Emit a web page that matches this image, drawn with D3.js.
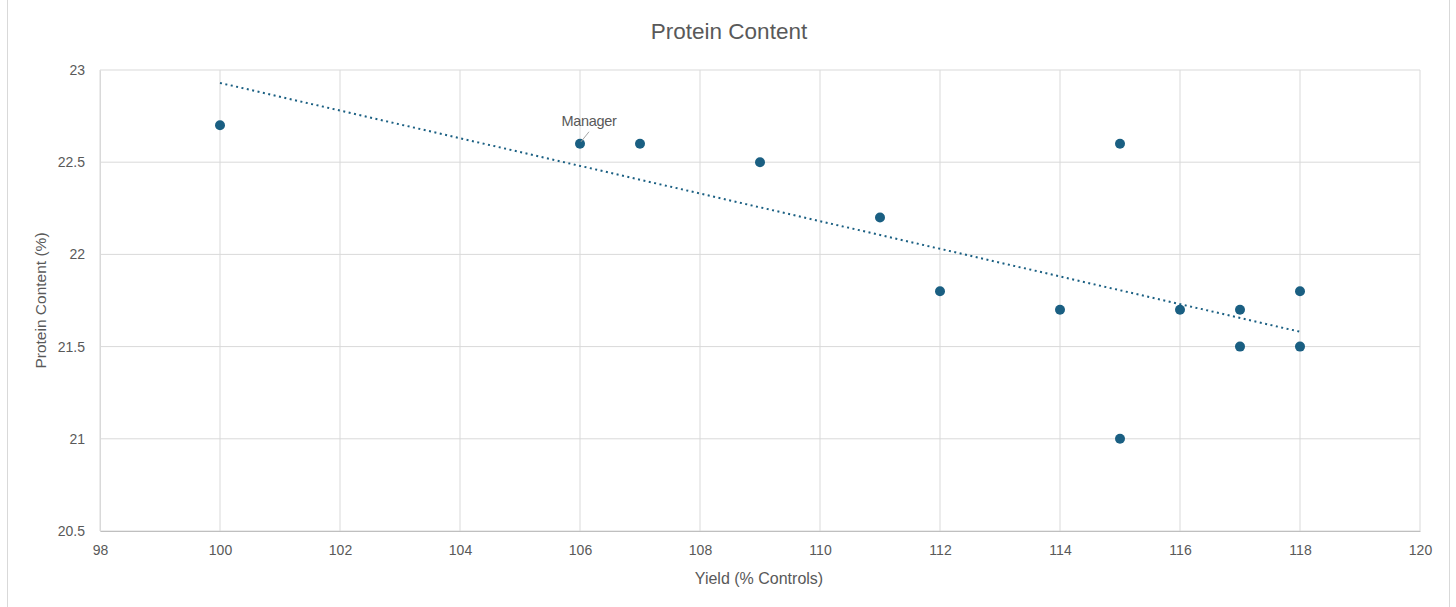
<!DOCTYPE html>
<html>
<head>
<meta charset="utf-8">
<script src="https://cdn.jsdelivr.net/npm/d3@7"></script>
<style>
  body { margin: 0; background: #fff; }
  text { font-family: "Liberation Sans", Arial, sans-serif; fill: #595959; }
</style>
</head>
<body>
<svg id="chart" width="1456" height="607"></svg>
<script>
// yield (% controls) and protein content (%)
var yieldVals   = [100, 106, 107, 109, 111, 112, 114, 115, 115, 116, 117, 117, 118, 118];
var proteinVals = [22.7, 22.6, 22.6, 22.5, 22.2, 21.8, 21.7, 22.6, 21.0, 21.7, 21.7, 21.5, 21.8, 21.5];
var xTicks = [98, 100, 102, 104, 106, 108, 110, 112, 114, 116, 118, 120];
var yTicks = [20.5, 21, 21.5, 22, 22.5, 23];
var labelled = {index: 1, text: "Manager"};

var margin = {top: 70, right: 36, bottom: 76, left: 100},
    width = 1420 - margin.left,
    height = 531 - margin.top;

var svg = d3.select("#chart");

// outer frame
svg.append("rect")
  .attr("x", 7.5).attr("y", -1)
  .attr("width", 1442).attr("height", 620)
  .attr("fill", "none").attr("stroke", "#d9d9d9");

var g = svg.append("g")
  .attr("transform", "translate(" + margin.left + "," + margin.top + ")");

var x = d3.scaleLinear().domain([98, 120]).range([0, width]);
var y = d3.scaleLinear().domain([20.5, 23]).range([height, 0]);

// grid
g.selectAll(".vgrid").data(xTicks).enter().append("line")
  .attr("x1", function(d) { return x(d); }).attr("x2", function(d) { return x(d); })
  .attr("y1", 0).attr("y2", height)
  .attr("stroke", "#d9d9d9").attr("stroke-width", 1);
g.selectAll(".hgrid").data(yTicks).enter().append("line")
  .attr("x1", 0).attr("x2", width)
  .attr("y1", function(d) { return y(d); }).attr("y2", function(d) { return y(d); })
  .attr("stroke", "#d9d9d9").attr("stroke-width", 1);

// axes (labels only, lines come from grid)
var xAxis = g.append("g")
  .attr("transform", "translate(0," + height + ")")
  .call(d3.axisBottom(x).tickValues(xTicks).tickSize(0).tickPadding(14).tickFormat(d3.format("d")));
xAxis.select(".domain").attr("stroke", "#bfbfbf");
xAxis.selectAll("text").style("font-size", "14px").attr("fill", "#595959")
  .style("font-family", "Liberation Sans, Arial, sans-serif");

var yAxis = g.append("g")
  .call(d3.axisLeft(y).tickValues(yTicks).tickSize(0).tickPadding(15).tickFormat(function(d) { return d; }));
yAxis.select(".domain").attr("stroke", "#d9d9d9");
yAxis.selectAll("text").style("font-size", "14px").attr("fill", "#595959")
  .style("font-family", "Liberation Sans, Arial, sans-serif");

// linear trendline (least squares)
var n = yieldVals.length;
var mx = d3.mean(yieldVals), my = d3.mean(proteinVals);
var sxy = 0, sxx = 0;
for (var i = 0; i < n; i++) {
  sxy += (yieldVals[i] - mx) * (proteinVals[i] - my);
  sxx += (yieldVals[i] - mx) * (yieldVals[i] - mx);
}
var slope = sxy / sxx, icept = my - slope * mx;
var x0 = d3.min(yieldVals), x1 = d3.max(yieldVals);
g.append("line")
  .attr("x1", x(x0)).attr("y1", y(icept + slope * x0))
  .attr("x2", x(x1)).attr("y2", y(icept + slope * x1))
  .attr("stroke", "#1a5f82").attr("stroke-width", 2)
  .attr("stroke-dasharray", "2,3.5");

// points
g.selectAll(".markers").data(yieldVals).enter().append("circle")
  .attr("class", "markers")
  .attr("cx", function(d) { return x(d); })
  .attr("cy", function(d, i) { return y(proteinVals[i]); })
  .attr("r", 5)
  .attr("fill", "#1a5f82");

// data label with leader line
var lx = x(yieldVals[labelled.index]), ly = y(proteinVals[labelled.index]);
g.append("line")
  .attr("x1", lx + 1).attr("y1", ly - 2)
  .attr("x2", lx + 9).attr("y2", ly - 12)
  .attr("stroke", "#a6a6a6").attr("stroke-width", 1);
g.append("text")
  .attr("x", lx + 9).attr("y", ly - 18)
  .attr("text-anchor", "middle")
  .style("font-size", "14.5px")
  .style("letter-spacing", "-0.3px")
  .text(labelled.text);

// titles
svg.append("text")
  .attr("x", 729).attr("y", 39)
  .attr("text-anchor", "middle")
  .style("font-size", "22.5px")
  .text("Protein Content");

svg.append("text")
  .attr("x", 759).attr("y", 584)
  .attr("text-anchor", "middle")
  .style("font-size", "16px")
  .text("Yield (% Controls)");

svg.append("text")
  .attr("transform", "translate(46," + (margin.top + height / 2) + ") rotate(-90)")
  .attr("text-anchor", "middle")
  .style("font-size", "15.5px")
  .text("Protein Content (%)");
</script>
</body>
</html>
